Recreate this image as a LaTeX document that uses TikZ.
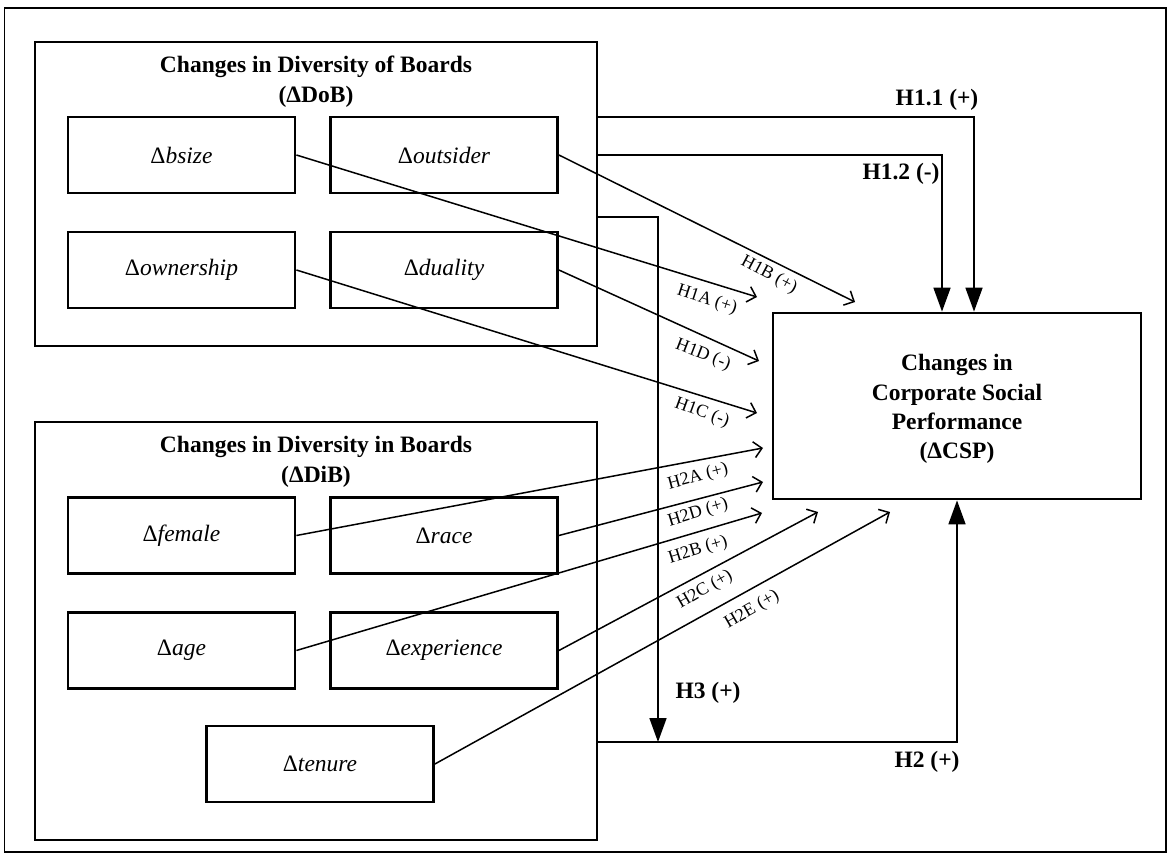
\documentclass[tikz,border=0pt]{standalone}
\usepackage{fontspec}
\setmainfont{Liberation Serif}
\usetikzlibrary{arrows.meta}
\begin{document}
\begin{tikzpicture}[x=1pt,y=-1pt,
  box/.style={draw, line width=2.8pt, minimum width=227pt, minimum height=76pt,
    inner sep=0pt, font=\fontsize{23.5}{28}\selectfont\itshape},
  group/.style={draw, line width=2.8pt, minimum width=562pt, inner sep=0pt},
  title/.style={align=center, inner sep=0pt, font=\fontsize{23.5}{30}\selectfont\bfseries},
  link/.style={line width=1.5pt, -{Straight Barb[length=8pt,width=16pt]}},
  main/.style={line width=1.7pt, -{Triangle[length=24pt,width=17pt]}},
  hyp/.style={font=\fontsize{18}{20}\selectfont, inner sep=0pt},
  bighyp/.style={font=\fontsize{23.5}{28}\selectfont\bfseries, inner sep=0pt}]

\useasboundingbox (0,0) rectangle (1170,856);
\draw[line width=1.8pt] (4.5,8) rectangle (1166,852);

% board groups
\node[group, minimum height=304pt] (dob) at (316,194) {};
\node[group, minimum height=418pt] (dib) at (316,631) {};
\node[title] (dobt) at (316,82) {Changes in Diversity of Boards\\({\upshape Δ}DoB)};
\node[title] (dibt) at (316,462) {Changes in Diversity in Boards\\({\upshape Δ}DiB)};

% variables
\node[box] (bsize)      at (181.5,155) {{\upshape Δ}bsize};
\node[box] (outsider)   at (444,155)   {{\upshape Δ}outsider};
\node[box] (ownership)  at (181.5,270) {{\upshape Δ}ownership};
\node[box] (duality)    at (444,270)   {{\upshape Δ}duality};
\node[box] (female)     at (181.5,535.5) {{\upshape Δ}female};
\node[box] (race)       at (444,535.5)   {{\upshape Δ}race};
\node[box] (age)        at (181.5,650.5) {{\upshape Δ}age};
\node[box] (experience) at (444,650.5)   {{\upshape Δ}experience};
\node[box] (tenure)     at (320,764)     {{\upshape Δ}tenure};

% outcome
\node[draw, line width=2.8pt, minimum width=368pt, minimum height=186pt, inner sep=0pt] (csp) at (957,406) {};
\node[title, font=\fontsize{23.5}{29.3}\selectfont\bfseries] (cspt) at (957,409)
  {Changes in\\Corporate Social\\Performance\\({\upshape Δ}CSP)};

% arrow ends
\coordinate (e1a) at (757,297);
\coordinate (e1b) at (855,302);
\coordinate (e1d) at (759,361);
\coordinate (e1c) at (757,413);
\coordinate (e2a) at (763,448);
\coordinate (e2d) at (763,482);
\coordinate (e2b) at (762,513);
\coordinate (e2c) at (818,512);
\coordinate (e2e) at (890,512);

\draw[link] (bsize.east) -- (e1a);
\draw[link] (outsider.east) -- (e1b);
\draw[link] (duality.east) -- (e1d);
\draw[link] (ownership.east) -- (e1c);
\draw[link] (female.east) -- (e2a);
\draw[link] (race.east) -- (e2d);
\draw[link] (age.east) -- (e2b);
\draw[link] (experience.east) -- (e2c);
\draw[link] (tenure.east) -- (e2e);

% aggregate paths
\coordinate (k11) at (974,117);
\coordinate (k12) at (942,155);
\coordinate (k3)  at (658,217);
\coordinate (k2)  at (957,742);
\draw[main] (dob.east |- k11) -- (k11) -- (csp.north -| k11);
\draw[main] (dob.east |- k12) -- (k12) -- (csp.north -| k12);
\draw[main] (dob.east |- k3) -- (k3) -- (k3 |- k2);
\draw[main] (dib.east |- k2) -- (k2) -- (csp.south -| k2);

% hypothesis labels
\node[bighyp] (l11) at (937,100) {H1.1 (+)};
\node[bighyp] (l12) at (901,174) {H1.2 (-)};
\node[bighyp] (l3)  at (708,693) {H3 (+)};
\node[bighyp] (l2)  at (927,762) {H2 (+)};

\node[hyp, rotate=-18] (l1a) at (707,300) {H1A (+)};
\node[hyp, rotate=-28] (l1b) at (769,275) {H1B (+)};
\node[hyp, rotate=-21] (l1d) at (703,355) {H1D (-)};
\node[hyp, rotate=-20] (l1c) at (702,413) {H1C (-)};
\node[hyp, rotate=15]  (l2a) at (698,477) {H2A (+)};
\node[hyp, rotate=17]  (l2d) at (698,513) {H2D (+)};
\node[hyp, rotate=17]  (l2b) at (698,550) {H2B (+)};
\node[hyp, rotate=30]  (l2c) at (705,590) {H2C (+)};
\node[hyp, rotate=30]  (l2e) at (752,610) {H2E (+)};
\end{tikzpicture}
\end{document}
